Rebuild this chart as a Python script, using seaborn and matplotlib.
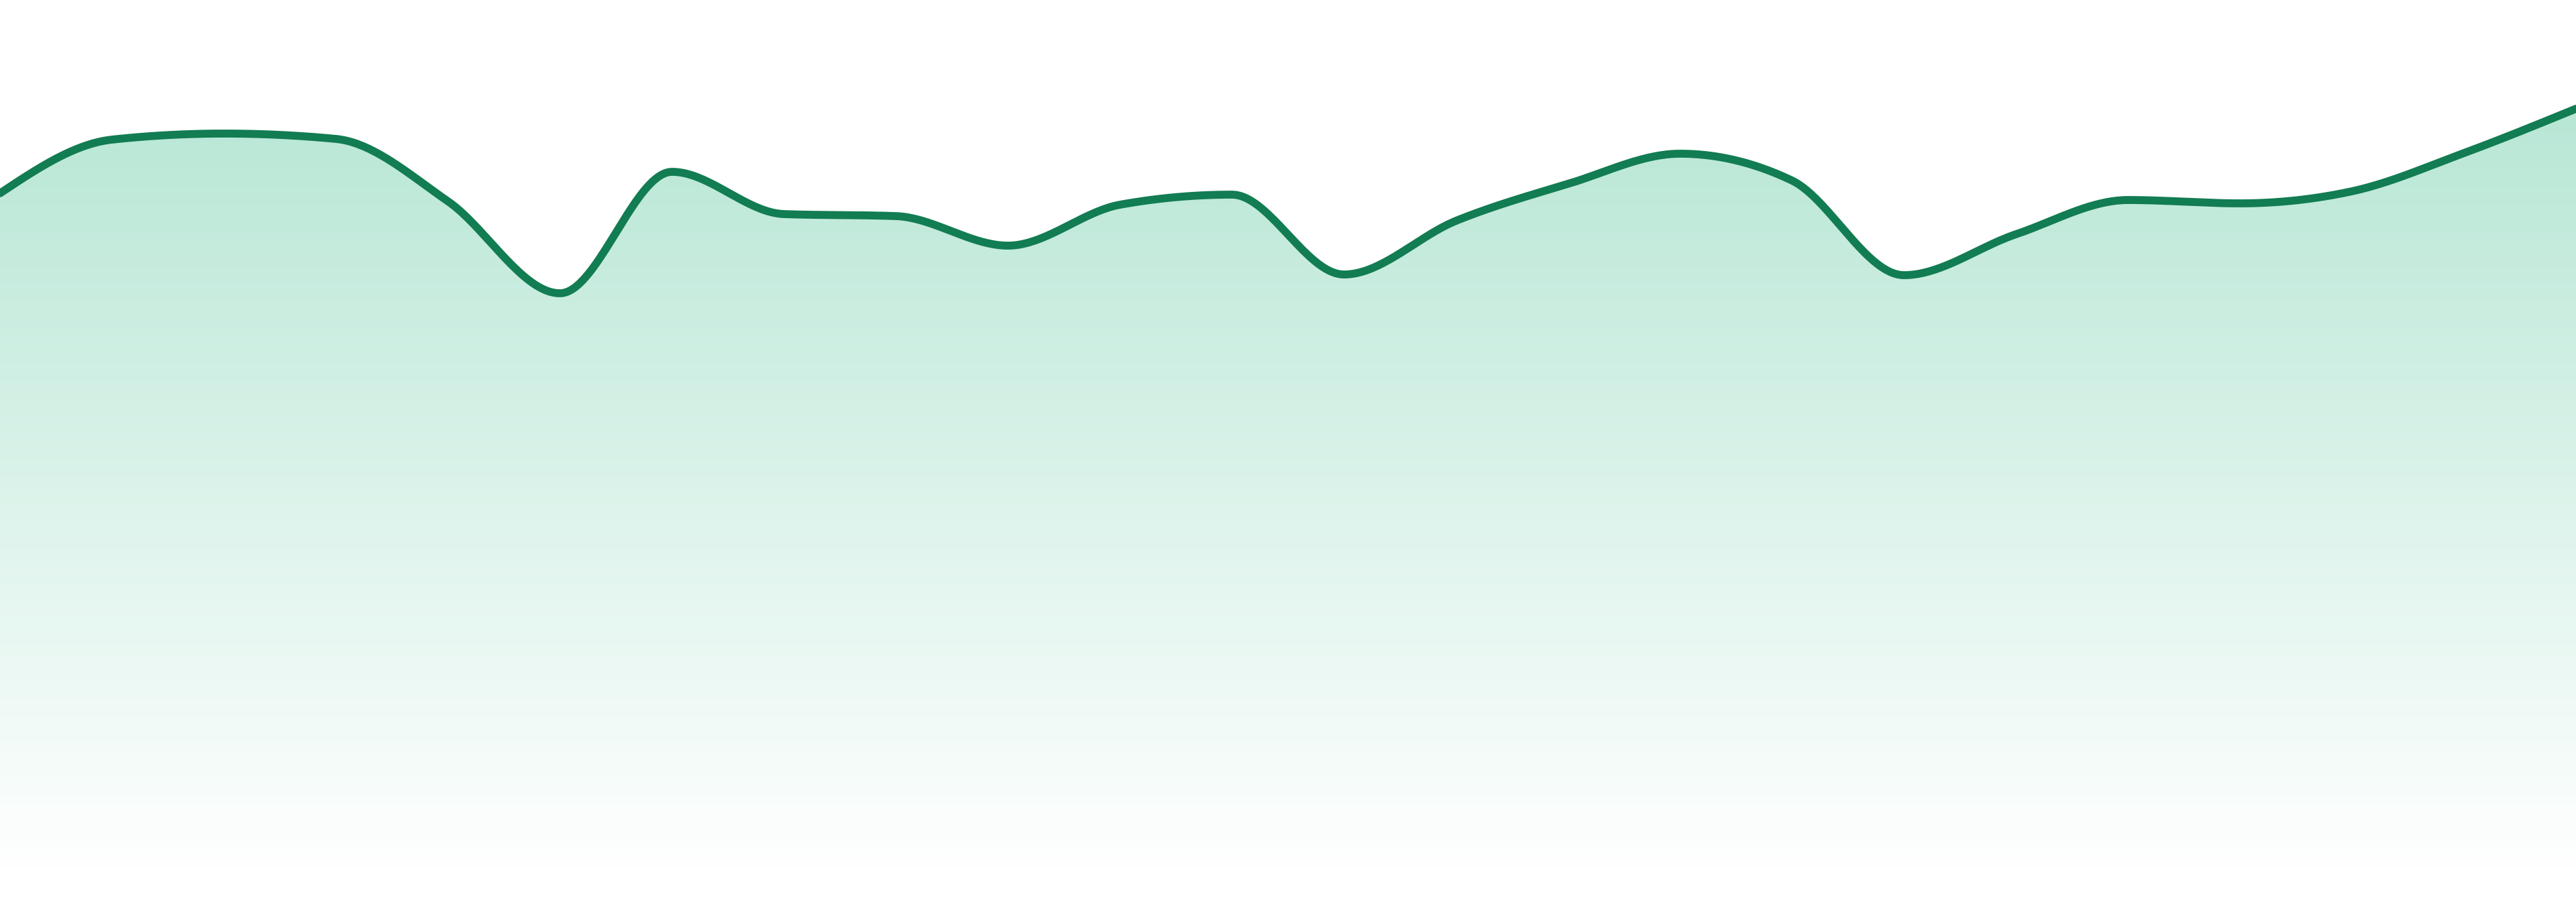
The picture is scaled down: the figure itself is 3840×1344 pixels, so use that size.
import numpy as np
import pandas as pd
import matplotlib
matplotlib.use("Agg")
import matplotlib.pyplot as plt
import seaborn as sns

# valores (24 pontos igualmente espaçados)
indices = list(range(24))
valores = [101.7, 109.7, 110.6, 109.8, 100.5, 86.8, 104.9, 98.6,
           98.3, 93.9, 100.0, 101.5, 89.6, 97.6, 103.1, 107.6,
           103.6, 89.5, 95.6, 100.7, 100.2, 102.0, 107.7, 114.3]

cor_linha = "#127C52"
cor_area = "#2DB884"


# interpolação monotona (como curveMonotoneX do d3)
def monotone(x, y, n=40):
  x = np.asarray(x, float)
  y = np.asarray(y, float)
  h = np.diff(x)
  s = np.diff(y) / h
  t = np.zeros_like(y)
  for i in range(1, len(y) - 1):
    p = (s[i-1] * h[i] + s[i] * h[i-1]) / (h[i-1] + h[i])
    t[i] = (np.sign(s[i-1]) + np.sign(s[i])) * min(abs(s[i-1]), abs(s[i]), 0.5 * abs(p))
  t[0] = (3 * s[0] - t[1]) / 2
  t[-1] = (3 * s[-1] - t[-2]) / 2
  xs, ys = [], []
  for i in range(len(y) - 1):
    u = np.linspace(0, 1, n, endpoint=False)
    h00 = 2*u**3 - 3*u**2 + 1
    h10 = u**3 - 2*u**2 + u
    h01 = -2*u**3 + 3*u**2
    h11 = u**3 - u**2
    xs.append(x[i] + u * h[i])
    ys.append(h00*y[i] + h10*h[i]*t[i] + h01*y[i+1] + h11*h[i]*t[i+1])
  xs.append([x[-1]])
  ys.append([y[-1]])
  return np.concatenate(xs), np.concatenate(ys)


xs, ys = monotone(indices, valores)
df = pd.DataFrame({"x": xs, "y": ys})

sns.set_theme(style="white")
fig = plt.figure(figsize=(38.4, 13.44), dpi=100)
ax = fig.add_axes([0, 39/1344, 1, 1305/1344])

# linha
sns.lineplot(data=df, x="x", y="y", color=cor_linha, linewidth=8.5, ax=ax, zorder=3)

# área com gradiente vertical (cortada pela curva)
poly = ax.fill_between(df["x"], df["y"], 0, color="none", lw=0)
topo = df["y"].max()
rgb = matplotlib.colors.to_rgb(cor_area)
img = np.zeros((256, 1, 4))
img[..., 0], img[..., 1], img[..., 2] = rgb
img[..., 3] = np.linspace(0.0, 0.34, 256).reshape(-1, 1)
im = ax.imshow(img, extent=[0, 23, 0, topo], origin="lower", aspect="auto", zorder=1)
im.set_clip_path(poly.get_paths()[0], transform=ax.transData)

ax.set_xlim(0, 23)
ax.set_ylim(0, 130.5)
ax.axis("off")

fig.savefig("out.png", dpi=100)
